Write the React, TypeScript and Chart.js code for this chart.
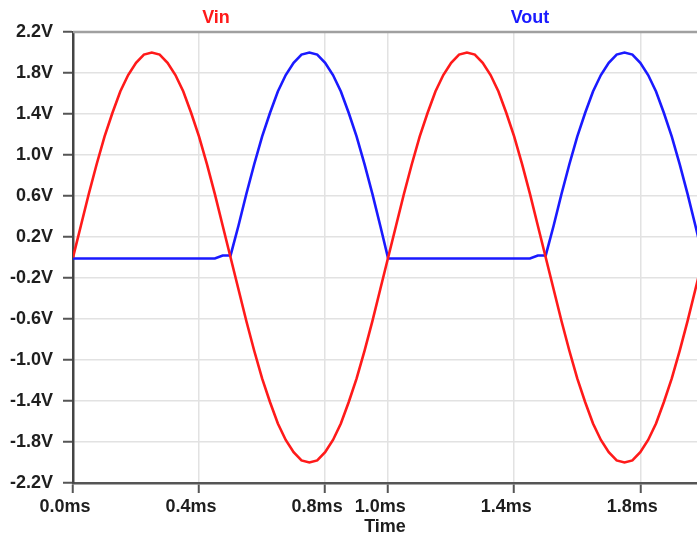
import React, { useEffect, useRef } from "react";
import { Chart, registerables } from "chart.js";

Chart.register(...registerables);

const timeMs = [
  0, 0.025, 0.05, 0.075, 0.1, 0.125, 0.15, 0.175, 0.2, 0.225,
  0.25, 0.275, 0.3, 0.325, 0.35, 0.375, 0.4, 0.425, 0.45, 0.475,
  0.5, 0.525, 0.55, 0.575, 0.6, 0.625, 0.65, 0.675, 0.7, 0.725,
  0.75, 0.775, 0.8, 0.825, 0.85, 0.875, 0.9, 0.925, 0.95, 0.975,
  1.0, 1.025, 1.05, 1.075, 1.1, 1.125, 1.15, 1.175, 1.2, 1.225,
  1.25, 1.275, 1.3, 1.325, 1.35, 1.375, 1.4, 1.425, 1.45, 1.475,
  1.5, 1.525, 1.55, 1.575, 1.6, 1.625, 1.65, 1.675, 1.7, 1.725,
  1.75, 1.775, 1.8, 1.825, 1.85, 1.875, 1.9, 1.925, 1.95, 1.975,
  2.0,
];

const vin = [
  0, 0.31, 0.62, 0.91, 1.18, 1.41, 1.62, 1.78, 1.9, 1.98,
  2.0, 1.98, 1.9, 1.78, 1.62, 1.41, 1.18, 0.91, 0.62, 0.31,
  0, -0.31, -0.62, -0.91, -1.18, -1.41, -1.62, -1.78, -1.9, -1.98,
  -2.0, -1.98, -1.9, -1.78, -1.62, -1.41, -1.18, -0.91, -0.62, -0.31,
  0, 0.31, 0.62, 0.91, 1.18, 1.41, 1.62, 1.78, 1.9, 1.98,
  2.0, 1.98, 1.9, 1.78, 1.62, 1.41, 1.18, 0.91, 0.62, 0.31,
  0, -0.31, -0.62, -0.91, -1.18, -1.41, -1.62, -1.78, -1.9, -1.98,
  -2.0, -1.98, -1.9, -1.78, -1.62, -1.41, -1.18, -0.91, -0.62, -0.31,
  0,
];

const vout = [
  -0.01, -0.01, -0.01, -0.01, -0.01, -0.01, -0.01, -0.01, -0.01, -0.01,
  -0.01, -0.01, -0.01, -0.01, -0.01, -0.01, -0.01, -0.01, -0.01, 0.02,
  0.02, 0.31, 0.62, 0.91, 1.18, 1.41, 1.62, 1.78, 1.9, 1.98,
  2.0, 1.98, 1.9, 1.78, 1.62, 1.41, 1.18, 0.91, 0.62, 0.31,
  -0.01, -0.01, -0.01, -0.01, -0.01, -0.01, -0.01, -0.01, -0.01, -0.01,
  -0.01, -0.01, -0.01, -0.01, -0.01, -0.01, -0.01, -0.01, -0.01, 0.02,
  0.02, 0.31, 0.62, 0.91, 1.18, 1.41, 1.62, 1.78, 1.9, 1.98,
  2.0, 1.98, 1.9, 1.78, 1.62, 1.41, 1.18, 0.91, 0.62, 0.31,
  -0.01,
];

const xTickValues = [0, 0.4, 0.8, 1.0, 1.4, 1.8];
const yTickValues = [-2.2, -1.8, -1.4, -1.0, -0.6, -0.2, 0.2, 0.6, 1.0, 1.4, 1.8, 2.2];

const seriesNames = ["Vin", "Vout"];
const seriesColors = ["#ff1a1a", "#1a1aff"];

const FONT = "'Liberation Sans', Arial, sans-serif";

const headerPlugin = {
  id: "header",
  beforeDatasetsDraw(chart: any) {
    const { ctx, chartArea } = chart;
    ctx.save();
    ctx.strokeStyle = "#a0a0a0";
    ctx.lineWidth = 2.5;
    ctx.beginPath();
    ctx.moveTo(chartArea.left, chartArea.top);
    ctx.lineTo(chartArea.right, chartArea.top);
    ctx.stroke();
    ctx.restore();
  },
  afterDraw(chart: any) {
    const { ctx } = chart;
    ctx.save();
    ctx.font = `bold 18px ${FONT}`;
    ctx.textAlign = "center";
    ctx.textBaseline = "alphabetic";
    const xs = [216, 530];
    seriesNames.forEach((name, i) => {
      ctx.fillStyle = seriesColors[i];
      ctx.fillText(name, xs[i], 23);
    });
    ctx.restore();
  },
};

export default function App() {
  const canvasRef = useRef<HTMLCanvasElement | null>(null);

  useEffect(() => {
    document.body.style.margin = "0";
    const canvas = canvasRef.current;
    if (!canvas) return;
    const chart = new Chart(canvas, {
      type: "line",
      data: {
        datasets: [
          {
            label: seriesNames[0],
            data: timeMs.map((t, i) => ({ x: t, y: vin[i] })),
            borderColor: seriesColors[0],
            borderWidth: 2.6,
            pointRadius: 0,
            tension: 0,
            fill: false,
          },
          {
            label: seriesNames[1],
            data: timeMs.map((t, i) => ({ x: t, y: vout[i] })),
            borderColor: seriesColors[1],
            borderWidth: 2.6,
            pointRadius: 0,
            tension: 0,
            fill: false,
          },
        ],
      },
      options: {
        responsive: false,
        maintainAspectRatio: false,
        animation: false,
        layout: { padding: { top: 32, left: 0, right: 0, bottom: 0 } },
        plugins: {
          legend: { display: false },
          tooltip: { enabled: false },
          title: { display: false },
        },
        scales: {
          x: {
            type: "linear",
            min: 0,
            max: 1.98,
            afterBuildTicks: (s: any) => {
              s.ticks = xTickValues.map((v) => ({ value: v }));
            },
            afterFit: (s: any) => {
              s.height = 61;
              s.paddingLeft = 0;
              s.paddingRight = 0;
            },
            ticks: {
              callback: (v: any) => Number(v).toFixed(1) + "ms",
              font: { family: FONT, size: 18, weight: "bold" },
              color: "#1e1e1e",
              padding: 3,
              labelOffset: -8,
              maxRotation: 0,
              autoSkip: false,
            },
            grid: {
              color: "#e2e2e2",
              lineWidth: 1.5,
              tickColor: "#555",
              tickLength: 10,
              tickWidth: 2,
            },
            border: { color: "#555", width: 2.5 },
            title: {
              display: true,
              text: "Time",
              font: { family: FONT, size: 18, weight: "bold" },
              color: "#1e1e1e",
              padding: { top: 0, bottom: 6 },
            },
          },
          y: {
            type: "linear",
            min: -2.2,
            max: 2.2,
            afterBuildTicks: (s: any) => {
              s.ticks = yTickValues.map((v) => ({ value: v }));
            },
            afterFit: (s: any) => {
              s.width = 73;
              s.paddingTop = 0;
              s.paddingBottom = 0;
            },
            ticks: {
              callback: (v: any) => Number(v).toFixed(1) + "V",
              font: { family: FONT, size: 18, weight: "bold" },
              color: "#1e1e1e",
              padding: 10,
              autoSkip: false,
            },
            grid: {
              color: "#e2e2e2",
              lineWidth: 1.5,
              tickColor: "#555",
              tickLength: 10,
              tickWidth: 2,
            },
            border: { color: "#444", width: 2.5 },
          },
        },
      },
      plugins: [headerPlugin],
    });
    return () => chart.destroy();
  }, []);

  return (
    <div style={{ width: 697, height: 544, background: "#fff" }}>
      <canvas ref={canvasRef} width={697} height={544} style={{ display: "block" }} />
    </div>
  );
}
